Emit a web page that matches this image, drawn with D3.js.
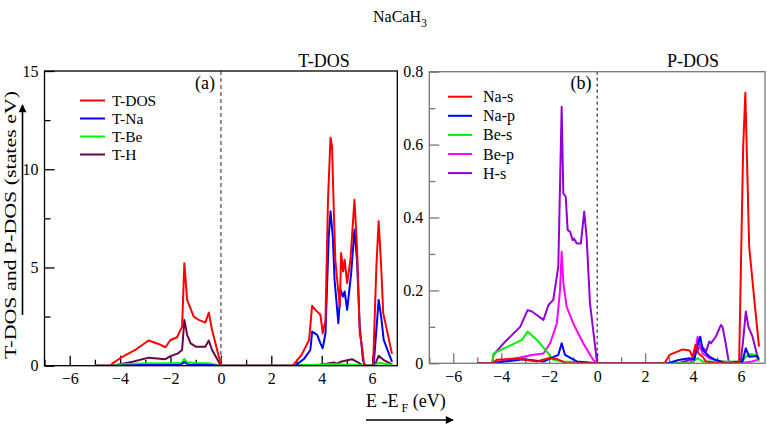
<!DOCTYPE html>
<html><head><meta charset="utf-8">
<script src="https://cdn.jsdelivr.net/npm/d3@7"></script>
<style>
body{margin:0;background:#fff;}
text{font-family:"Liberation Serif","Times New Roman",serif;fill:#000;}
</style></head>
<body><svg id="c" width="767" height="429"></svg>
<script>
// ---------- DATA ----------
const xTicksMajor = [-6,-4,-2,0,2,4,6];
const xTicksMinor = [-7,-5,-3,-1,1,3,5];
const yTicksLeft = [0,5,10,15];
const yTicksLeftMinor = [2.5,7.5,12.5];
const yTicksRight = [0,0.2,0.4,0.6,0.8];
const yTicksRightMinor = [0.1,0.3,0.5,0.7];

const tDos = [[-5,0],[-4.38,0],[-4.3,0.12],[-4.0,0.38],[-3.4,0.8],[-2.87,1.28],[-2.5,1.12],[-2.2,0.94],[-2.0,1.31],[-1.74,1.45],[-1.54,1.99],[-1.45,5.22],[-1.34,3.35],[-1.21,2.93],[-1.08,2.5],[-0.88,2.33],[-0.62,2.19],[-0.48,2.7],[-0.35,1.82],[0,0.05],[0.05,0],[2.85,0],[3.2,0.55],[3.5,1.31],[3.62,3.05],[3.75,2.84],[3.95,2.59],[4.04,1.65],[4.15,2.33],[4.25,8.45],[4.35,11.6],[4.41,11.17],[4.48,7.94],[4.54,5.39],[4.64,4.03],[4.72,3.01],[4.77,5.73],[4.85,4.8],[4.91,5.39],[5.01,4.2],[5.14,5.39],[5.3,8.45],[5.4,6.07],[5.51,1.65],[5.6,0.97],[5.69,0],[6.04,0],[6.17,5.05],[6.26,7.35],[6.36,5.05],[6.44,2.69],[6.79,0.6]];
const tNa = [[-5,0],[-4.3,0],[-3,0.03],[-1.6,0.05],[-1.45,0.18],[-1.3,0.06],[-0.5,0.03],[0,0],[2.95,0],[3.3,0.35],[3.55,0.8],[3.62,1.73],[3.82,1.57],[3.95,1.14],[4.04,0.89],[4.15,1.65],[4.28,6.58],[4.35,7.86],[4.44,6.58],[4.51,4.37],[4.58,3.35],[4.66,2.16],[4.75,3.86],[4.85,3.52],[4.91,3.78],[5.01,2.84],[5.17,4.71],[5.3,6.92],[5.4,5.39],[5.51,1.99],[5.64,0.26],[5.73,0],[6.06,0],[6.2,2.33],[6.26,3.35],[6.36,2.5],[6.46,1.31],[6.79,0.2]];
const tBe = [[-5,0],[-4.35,0],[-4.0,0.06],[-3.0,0.13],[-2.0,0.12],[-1.55,0.15],[-1.45,0.35],[-1.35,0.18],[-1.0,0.14],[-0.5,0.12],[0,0],[2.9,0],[3.5,0.03],[4.3,0.08],[5.0,0.06],[5.6,0.02],[5.8,0],[6.05,0],[6.3,0.15],[6.5,0.1],[6.8,0.05]];
const tH = [[-5,0],[-4.3,0],[-3.5,0.2],[-2.87,0.41],[-2.2,0.33],[-2.0,0.49],[-1.7,0.63],[-1.54,0.8],[-1.45,2.33],[-1.34,1.57],[-1.2,1.14],[-1.0,0.97],[-0.62,0.97],[-0.48,1.28],[-0.35,0.8],[0,0],[2.9,0],[3.9,0.05],[4.2,0.1],[4.48,0.17],[4.6,0.09],[4.75,0.2],[5.2,0.33],[5.4,0.2],[5.65,0],[6.1,0],[6.26,0.5],[6.45,0.3],[6.8,0.05]];

const naS = [[-5,0],[-4.38,0],[-4.17,0.01],[-3.35,0.013],[-2.51,0.005],[-2.03,0.014],[-1.7,0.012],[-1.27,0],[2.81,0],[3.02,0.023],[3.57,0.038],[3.85,0.035],[3.98,0.018],[4.1,0.05],[4.23,0.027],[4.4,0.018],[4.54,0.005],[4.95,0],[5.92,0],[6.09,0.594],[6.18,0.742],[6.34,0.32],[6.61,0.137],[6.75,0.046]];
const naP = [[-5,0],[-4.38,0],[-4.17,0.002],[-3.07,0.011],[-2.24,0.005],[-1.62,0.023],[-1.48,0.055],[-1.34,0.023],[-0.85,0.005],[0,0],[2.95,0],[3.4,0.009],[3.85,0.014],[4.05,0.01],[4.19,0.05],[4.3,0.073],[4.4,0.037],[4.68,0.018],[4.95,0.009],[5.36,0],[6.06,0.005],[6.2,0.041],[6.34,0.018],[6.68,0.02],[6.75,0.01]];
const beS = [[-5,0],[-4.38,0],[-4.32,0.027],[-3.14,0.064],[-2.9,0.087],[-2.51,0.064],[-2.1,0.032],[-1.83,0.01],[-1.4,0.005],[0,0],[3.9,0],[4.19,0.014],[4.4,0.005],[6.06,0.005],[6.2,0.018],[6.41,0.025],[6.61,0.023],[6.75,0.005]];
const beP = [[-5,0],[-4.38,0],[-3.35,0.014],[-2.72,0.023],[-2.24,0.027],[-1.96,0.055],[-1.68,0.11],[-1.55,0.2],[-1.48,0.306],[-1.41,0.219],[-1.27,0.155],[-1.0,0.11],[-0.58,0.055],[-0.17,0.01],[0,0],[3.85,0],[4.05,0.014],[4.19,0.073],[4.29,0.045],[4.4,0.027],[4.68,0.014],[4.95,0.009],[5.2,0.005],[5.98,0],[6.4,0.004],[6.68,0.009]];
const hS = [[-5,0],[-4.38,0],[-4.32,0.023],[-3.9,0.055],[-3.21,0.1],[-2.9,0.146],[-2.72,0.142],[-2.24,0.119],[-2.03,0.16],[-1.83,0.174],[-1.62,0.265],[-1.48,0.704],[-1.41,0.466],[-1.31,0.457],[-1.23,0.366],[-1.13,0.361],[-1.02,0.338],[-0.97,0.342],[-0.85,0.329],[-0.68,0.329],[-0.54,0.416],[-0.44,0.347],[-0.3,0.165],[0,0],[3.4,0],[3.85,0.009],[3.98,0.014],[4.19,0.037],[4.33,0.05],[4.54,0.032],[4.68,0.06],[4.75,0.055],[4.95,0.073],[5.16,0.105],[5.23,0.1],[5.36,0.055],[5.5,0],[5.98,0],[6.09,0.064],[6.2,0.142],[6.31,0.1],[6.48,0.073],[6.68,0.02]];

const leftSeries = [
  {name:"T-DOS", data:tDos, color:"#ff0000"},
  {name:"T-Na", data:tNa, color:"#0000ff"},
  {name:"T-Be", data:tBe, color:"#00ff00"},
  {name:"T-H", data:tH, color:"#670748"}
];
const rightSeries = [
  {name:"Na-s", data:naS, color:"#ff0000"},
  {name:"Na-p", data:naP, color:"#0000ff"},
  {name:"Be-s", data:beS, color:"#00ee00"},
  {name:"Be-p", data:beP, color:"#ff00ff"},
  {name:"H-s", data:hS, color:"#9400d3"}
];

// ---------- DRAW ----------
const svg = d3.select("#c");
const defs = svg.append("defs");
defs.append("marker").attr("id","ah").attr("viewBox","0 0 10 10").attr("refX",9).attr("refY",5)
  .attr("markerWidth",10).attr("markerHeight",8).attr("markerUnits","userSpaceOnUse").attr("orient","auto")
  .append("path").attr("d","M0,0L10,5L0,10z").attr("fill","#000");

function panel(cfg){
  const g = svg.append("g");
  const x = d3.scaleLinear([-7,7],[cfg.x0,cfg.x1]);
  const y = d3.scaleLinear(cfg.yDom,[cfg.y0,cfg.y1]);
  const clipId = "clip"+cfg.id;
  defs.append("clipPath").attr("id",clipId).append("rect")
    .attr("x",cfg.x0).attr("y",cfg.y1).attr("width",cfg.x1-cfg.x0).attr("height",cfg.y0-cfg.y1);
  const xa = g.append("g").attr("transform",`translate(0,${cfg.y0})`)
    .call(d3.axisBottom(x).tickValues(xTicksMajor).tickSize(-10).tickPadding(7).tickFormat(d3.format("d")));
  const xm = g.append("g").attr("transform",`translate(0,${cfg.y0})`)
    .call(d3.axisBottom(x).tickValues(xTicksMinor).tickSize(-6).tickFormat(""));
  const ya = g.append("g").attr("transform",`translate(${cfg.x0},0)`)
    .call(d3.axisLeft(y).tickValues(cfg.yTicks).tickSize(-10).tickPadding(6).tickFormat(cfg.fmt));
  const ym = g.append("g").attr("transform",`translate(${cfg.x0},0)`)
    .call(d3.axisLeft(y).tickValues(cfg.yMinor).tickSize(-6).tickFormat(""));
  [xa,xm,ya,ym].forEach(a=>{
    a.select(".domain").remove();
    a.selectAll("line").attr("stroke",cfg.axisColor).attr("stroke-width",1.3);
    a.selectAll("text").style("font-family",'"Liberation Serif","Times New Roman",serif').style("font-size","16px").attr("fill","#000");
  });
  g.append("line").attr("x1",x(0)).attr("x2",x(0)).attr("y1",cfg.y1).attr("y2",cfg.y0)
    .attr("stroke",cfg.dashColor).attr("stroke-width",cfg.dashW).attr("stroke-dasharray",cfg.dash);
  const line = d3.line().x(d=>x(d[0])).y(d=>y(d[1]));
  const lg = g.append("g").attr("clip-path",`url(#${clipId})`);
  cfg.series.slice().reverse().forEach(s=>{
    lg.append("path").attr("d",line(s.data)).attr("fill","none").attr("stroke",s.color)
      .attr("stroke-width",2).attr("stroke-linejoin","round");
  });
  g.append("rect").attr("x",cfg.x0).attr("y",cfg.y1).attr("width",cfg.x1-cfg.x0).attr("height",cfg.y0-cfg.y1)
    .attr("fill","none").attr("stroke",cfg.axisColor).attr("stroke-width",1.3);
  cfg.series.forEach((s,i)=>{
    const yy = cfg.legY + i*cfg.legDy;
    g.append("line").attr("x1",cfg.legX).attr("x2",cfg.legX+cfg.legW).attr("y1",yy).attr("y2",yy)
      .attr("stroke",s.color).attr("stroke-width",2);
    g.append("text").attr("x",cfg.legTx).attr("y",yy+5.5).style("font-size",cfg.legFs).text(s.name);
  });
  g.append("text").attr("x",cfg.tagX).attr("y",89).attr("text-anchor","middle").style("font-size","18px").text(cfg.tag);
  g.append("text").attr("x",cfg.titleX).attr("y",67).attr("text-anchor","middle").style("font-size","18px").text(cfg.title);
}

panel({id:"L",x0:44.5,x1:397.3,y0:365.7,y1:71,yDom:[0,15],yTicks:yTicksLeft,yMinor:yTicksLeftMinor,fmt:d3.format("d"),
  axisColor:"#000",dashColor:"#777",dashW:1.6,dash:"4,3",series:leftSeries,legFs:"15.5px",
  legX:80,legW:25,legTx:112,legY:100.5,legDy:18,tag:"(a)",tagX:205,title:"T-DOS",titleX:324});
panel({id:"R",x0:429.3,x1:765,y0:363.3,y1:71.7,yDom:[0,0.8],yTicks:yTicksRight,yMinor:yTicksRightMinor,fmt:d=>d===0?"0":d3.format(".1f")(d),
  axisColor:"#777",dashColor:"#000",dashW:1,dash:"3,3",series:rightSeries,legFs:"16px",
  legX:448,legW:24,legTx:483,legY:96.7,legDy:19.1,tag:"(b)",tagX:581,title:"P-DOS",titleX:693});

// main title
const t = svg.append("text").attr("x",400).attr("y",22).attr("text-anchor","middle").style("font-size","16px");
t.append("tspan").text("NaCaH");
t.append("tspan").attr("dy",5).style("font-size","12px").text("3");

// y label + arrow
svg.append("text").attr("transform","translate(15.5,225) rotate(-90)").attr("text-anchor","middle")
  .attr("textLength",268).attr("lengthAdjust","spacingAndGlyphs").style("font-size","16px")
  .text("T-DOS and P-DOS (states eV)");
svg.append("line").attr("x1",22.5).attr("x2",22.5).attr("y1",315).attr("y2",105)
  .attr("stroke","#000").attr("stroke-width",1.6).attr("marker-end","url(#ah)");

// x label + arrow
const xl = svg.append("text").attr("x",366).attr("y",407).style("font-size","18px");
xl.append("tspan").text("E -E");
xl.append("tspan").attr("dy",5).style("font-size","12px").text(" F");
xl.append("tspan").attr("dy",-5).text(" (eV)");
svg.append("line").attr("x1",366).attr("x2",453).attr("y1",420).attr("y2",420)
  .attr("stroke","#000").attr("stroke-width",1.6).attr("marker-end","url(#ah)");
</script></body></html>
